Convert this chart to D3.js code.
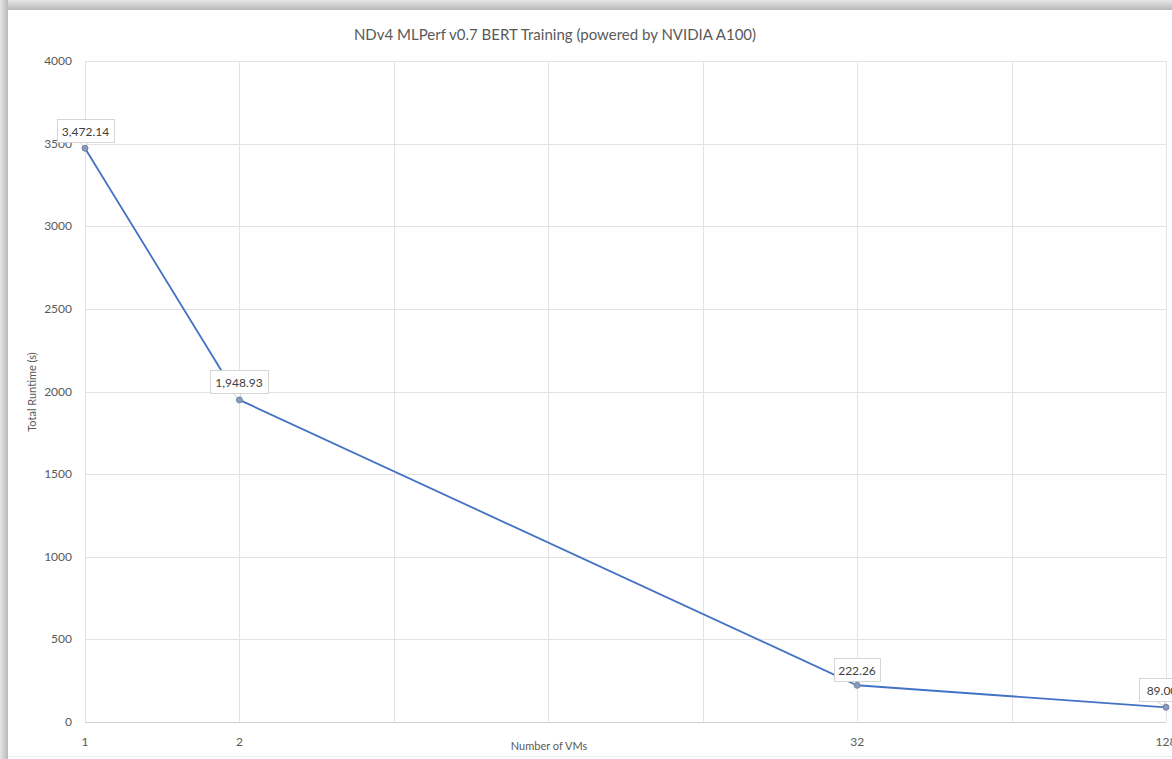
<!DOCTYPE html>
<html><head><meta charset="utf-8">
<script src="https://cdn.jsdelivr.net/npm/d3@7"></script>
<style>html,body{margin:0;padding:0;background:#fff;overflow:hidden}svg{display:block}text{font-family:Lato,"Open Sans",sans-serif}</style>
</head><body>
<script>
const vms = [1, 2, 32, 128];
const runtime = [3472.14, 1948.93, 222.26, 89.00];
const xGridValues = [1, 2, 4, 8, 16, 32, 64, 128];
const yTicks = [0, 500, 1000, 1500, 2000, 2500, 3000, 3500, 4000];
const labels = ["3,472.14", "1,948.93", "222.26", "89.00"];
const title = "NDv4 MLPerf v0.7 BERT Training (powered by NVIDIA A100)";

const W = 1172, H = 759;
const svg = d3.select("body").append("svg").attr("width", W).attr("height", H);

// frame shadow
const defs = svg.append("defs");
const gt = defs.append("linearGradient").attr("id","gt").attr("x1",0).attr("y1",0).attr("x2",0).attr("y2",1);
gt.append("stop").attr("offset","0%").attr("stop-color","#e6e6e6");
gt.append("stop").attr("offset","100%").attr("stop-color","#b8b8b8");
const gl = defs.append("linearGradient").attr("id","gl").attr("x1",0).attr("y1",0).attr("x2",1).attr("y2",0);
gl.append("stop").attr("offset","0%").attr("stop-color","#e6e6e6");
gl.append("stop").attr("offset","100%").attr("stop-color","#b8b8b8");
svg.append("rect").attr("x",0).attr("y",0).attr("width",W).attr("height",10).attr("fill","url(#gt)");
svg.append("rect").attr("x",0).attr("y",0).attr("width",8).attr("height",H).attr("fill","url(#gl)");
svg.append("rect").attr("x",8).attr("y",10).attr("width",W-8).attr("height",H-10).attr("fill","#fff");
svg.append("line").attr("x1",8).attr("x2",W).attr("y1",756.5).attr("y2",756.5).attr("stroke","#ececec");

const x = d3.scaleLog().base(2).domain([1, 128]).range([85, 1166]);
const y = d3.scaleLinear().domain([0, 4000]).range([722, 61]);

// grid
svg.append("g").selectAll("line").data(yTicks.filter(d=>d>0)).join("line")
  .attr("x1", 85).attr("x2", 1166).attr("y1", d=>Math.round(y(d))+0.5).attr("y2", d=>Math.round(y(d))+0.5)
  .attr("stroke", "#e3e3e3").attr("stroke-width", 1);
svg.append("g").selectAll("line").data(xGridValues).join("line")
  .attr("x1", d=>Math.round(x(d))+0.5).attr("x2", d=>Math.round(x(d))+0.5).attr("y1", 61).attr("y2", 722)
  .attr("stroke", "#e3e3e3").attr("stroke-width", 1);
// x axis line
svg.append("line").attr("x1",85).attr("x2",1166).attr("y1",722.5).attr("y2",722.5).attr("stroke","#d0d0d0");

// y tick labels
svg.append("g").selectAll("text").data(yTicks).join("text")
  .attr("x", 72).attr("y", d=>y(d)+4).attr("text-anchor","end")
  .attr("font-size", 12).attr("fill","#595959").text(d=>d);
// x tick labels
svg.append("g").selectAll("text").data(vms).join("text")
  .attr("x", d=>x(d)).attr("y", 746).attr("text-anchor","middle")
  .attr("font-size", 12).attr("fill","#595959").text(d=>d);

// axis titles
svg.append("text").attr("x", 549).attr("y", 750).attr("text-anchor","middle")
  .attr("font-size", 11).attr("fill","#595959").text("Number of VMs");
svg.append("text").attr("transform","translate(36,392) rotate(-90)").attr("text-anchor","middle")
  .attr("font-size", 11).attr("fill","#595959").text("Total Runtime (s)");

// title
svg.append("text").attr("x", 555).attr("y", 40).attr("text-anchor","middle")
  .attr("font-size", 15).attr("fill","#5a5a5a").text(title);

// line
const pts = vms.map((v,i)=>[x(v), y(runtime[i])]);
svg.append("path").attr("d", d3.line()(pts)).attr("fill","none")
  .attr("stroke","#4472C4").attr("stroke-width",1.8);

// label callouts
const boxes = [
  {cx: 85.5, top: 119, w: 57},
  {cx: 239, top: 370, w: 58},
  {cx: 857, top: 658, w: 46},
  {cx: 1162, top: 678, w: 46}
];
const lg = svg.append("g");
pts.forEach((p,i)=>{
  const b = boxes[i];
  const bx = b.cx - b.w/2, by = b.top, bh = 23;
  lg.append("path")
    .attr("d", `M${b.cx-6},${by+bh} L${p[0]},${p[1]} L${b.cx+2},${by+bh}`)
    .attr("fill","#fff").attr("stroke","#d0d0d0").attr("stroke-width",1);
  lg.append("rect").attr("x",bx+0.5).attr("y",by+0.5).attr("width",b.w).attr("height",bh)
    .attr("fill","#fff").attr("stroke","#d5d5d5");
  lg.append("text").attr("x", b.cx).attr("y", by+16.5).attr("text-anchor","middle")
    .attr("font-size",12).attr("fill","#404040").text(labels[i]);
});

// markers
svg.append("g").selectAll("circle").data(pts).join("circle")
  .attr("cx", d=>d[0]).attr("cy", d=>d[1]).attr("r", 3)
  .attr("fill","#8a9bb8").attr("stroke","#6f85ab").attr("stroke-width",1);
</script>
</body></html>
